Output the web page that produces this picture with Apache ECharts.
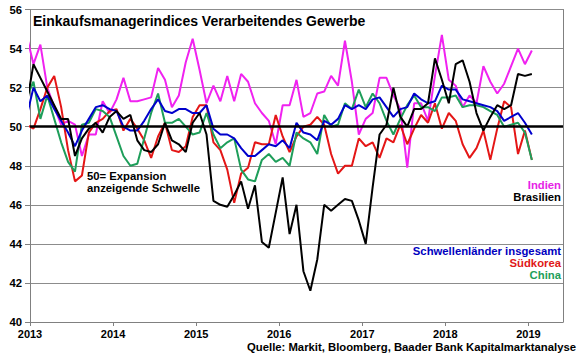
<!DOCTYPE html>
<html><head><meta charset="utf-8">
<script src="https://cdn.jsdelivr.net/npm/echarts@6/dist/echarts.min.js"></script>
<style>html,body{margin:0;padding:0;background:#fff}#c{width:580px;height:359px}</style>
</head><body><div id="c"></div>
<script>
// Monthly PMI values, Dec 2012 ... Jan 2019
const firstYear = 2012, firstMonth = 12;
const yearLabels = ['2013','2014','2015','2016','2017','2018','2019'];
const threshold = 50;

const indien = [54.7,
53.2,54.2,52.0,51.0,50.1,50.3,50.1,48.5,49.6,49.6,51.3,50.7,
51.4,52.5,51.3,51.3,51.4,51.5,53.0,52.4,51.0,51.6,53.3,54.5,
52.9,51.2,52.1,51.3,52.6,51.3,52.7,52.3,51.2,50.7,50.3,49.1,
51.1,51.1,52.4,50.5,50.7,51.7,51.8,52.6,52.1,54.4,52.3,49.6,
50.4,50.7,52.5,52.5,51.6,50.9,47.9,51.2,51.2,50.3,52.6,54.7,
52.4,52.1,51.0,51.6,51.2,53.1,52.3,51.7,52.2,53.1,54.0,53.2,
53.9];

const brasilien = [51.1,
53.2,52.5,51.8,51.1,50.4,50.4,48.5,49.4,49.9,50.2,49.7,50.5,
50.8,50.4,50.6,49.3,48.8,48.7,49.1,50.2,49.3,49.1,48.7,50.2,
50.7,49.6,46.2,46.0,45.9,46.5,47.2,45.8,47.0,44.1,43.8,45.6,
47.4,44.5,46.0,42.6,41.6,43.2,46.0,45.7,46.0,46.3,46.2,45.2,
44.0,46.9,49.6,50.1,52.0,50.5,50.0,50.9,50.9,51.2,53.5,52.4,
51.2,53.2,53.4,52.3,50.7,49.8,50.5,51.1,50.9,51.1,52.7,52.6,
52.7];

const schwellen = [50.5,
52.0,51.3,51.6,50.9,50.3,49.7,49.0,49.8,50.4,51.0,51.1,50.9,
50.8,50.0,49.8,49.8,50.3,50.9,51.4,50.8,50.7,50.9,50.9,50.7,
50.7,51.1,49.9,49.6,49.6,49.4,48.9,48.5,48.5,48.8,49.1,49.0,
49.3,48.9,50.2,49.7,49.6,49.3,50.3,50.1,50.4,51.1,50.9,51.1,
50.9,51.4,51.5,51.0,50.5,50.9,51.0,51.7,51.4,51.2,51.3,52.1,
51.9,51.9,51.4,51.3,51.2,51.1,51.0,50.8,50.3,50.5,50.7,50.2,
49.6];

const suedkorea = [50.1,
49.9,50.9,52.0,52.6,51.0,48.8,47.2,47.5,49.7,50.2,50.4,50.8,
50.9,49.8,50.4,49.9,49.3,48.4,49.5,50.2,48.8,48.7,49.0,50.5,
51.1,51.1,49.2,48.8,47.8,46.1,47.6,47.9,49.2,49.1,49.1,50.6,
49.5,48.7,49.5,50.0,50.1,50.5,50.1,48.6,47.6,48.0,48.0,49.4,
49.0,49.2,48.4,49.4,49.2,50.1,49.1,49.9,50.6,50.2,51.2,49.9,
50.7,50.3,49.1,48.4,48.9,49.8,48.3,49.9,51.3,51.0,48.6,49.8,
48.3];

const china = [51.5,
52.3,50.4,51.6,50.4,49.2,48.2,47.7,50.1,50.2,50.9,50.8,50.5,
49.5,48.5,48.0,48.1,49.4,50.7,51.7,50.2,50.2,50.4,50.0,49.6,
49.7,50.7,49.6,48.9,49.2,49.4,47.8,47.3,47.2,48.3,48.6,48.2,
48.4,48.0,49.7,49.4,49.2,48.6,50.6,50.0,50.1,51.2,50.9,51.9,
51.0,51.7,51.2,50.3,49.6,50.4,51.1,51.6,51.0,51.0,50.8,51.5,
51.5,51.6,51.0,51.1,51.1,51.0,50.8,50.6,50.0,50.1,50.2,49.7,
48.3];

// month categories -> axis position (months since Jan 2013, plotted mid-month)
const months = [];
for (let i = 0; i < indien.length; i++) {
  const t = (firstYear * 12 + firstMonth - 1) + i;
  months.push({ year: Math.floor(t / 12), month: t % 12 + 1 });
}
const monthPos = months.map(m => (m.year - 2013) * 12 + (m.month - 1) + 0.5);
const pairs = vals => vals.map((v, i) => [monthPos[i], v]);

const FONT = 'Liberation Sans, Arial, sans-serif';
const chart = echarts.init(document.getElementById('c'), null, { renderer: 'svg' });

const mkSeries = (name, vals, color, extra) => Object.assign({
  name, type: 'line', data: pairs(vals), showSymbol: false, symbol: 'none',
  lineStyle: { color, width: 2 }, itemStyle: { color }, clip: true, animation: false
}, extra || {});

chart.setOption({
  animation: false,
  grid: { left: 30, right: 17, top: 9.5, bottom: 37 },
  xAxis: {
    type: 'value', min: 0, max: 77, interval: 12,
    axisLine: { show: true, lineStyle: { color: '#808080', width: 1 } },
    axisTick: { show: true, length: 4, lineStyle: { color: '#808080' } },
    splitLine: { show: false },
    axisLabel: {
      margin: 6, color: '#000', fontSize: 11, fontWeight: 'bold', fontFamily: FONT,
      showMaxLabel: false,
      formatter: v => (v % 12 === 0 && yearLabels[v / 12]) ? yearLabels[v / 12] : ''
    }
  },
  yAxis: [{
    type: 'value', min: 40, max: 56, interval: 2,
    axisLine: { show: true, lineStyle: { color: '#808080', width: 1 } },
    axisTick: { show: true, length: 5, lineStyle: { color: '#808080' } },
    splitLine: { show: true, lineStyle: { color: '#8c8c8c', width: 1 } },
    axisLabel: { margin: 8, color: '#000', fontSize: 11.3, fontWeight: 'bold', fontFamily: FONT }
  }, {
    type: 'value', min: 40, max: 56, interval: 2, position: 'right',
    axisLine: { show: true, lineStyle: { color: '#808080', width: 1 } },
    axisTick: { show: false }, axisLabel: { show: false }, splitLine: { show: false }
  }],
  series: [
    mkSeries('Indien', indien, '#f022f0'),
    mkSeries('Südkorea', suedkorea, '#e41616'),
    mkSeries('China', china, '#1e9e5a'),
    mkSeries('Schwellenländer insgesamt', schwellen, '#0000cc'),
    mkSeries('Brasilien', brasilien, '#000000', {
      markLine: {
        silent: true, symbol: 'none', label: { show: false },
        lineStyle: { color: '#000', width: 2.5, type: 'solid' },
        data: [{ yAxis: threshold }]
      }
    })
  ],
  graphic: [
    { type: 'text', left: 33, top: 14, style: { text: 'Einkaufsmanagerindices Verarbeitendes Gewerbe', fill: '#000', font: 'bold 14px ' + FONT } },
    { type: 'text', left: 87, top: 170, style: { text: '50= Expansion\nanzeigende Schwelle', fill: '#000', font: 'bold 11.3px ' + FONT, lineHeight: 12 } },
    { type: 'text', right: 19, top: 179, style: { text: 'Indien', fill: '#e622e6', font: 'bold 11.3px ' + FONT } },
    { type: 'text', right: 19, top: 191, style: { text: 'Brasilien', fill: '#000', font: 'bold 11.3px ' + FONT } },
    { type: 'text', right: 19, top: 245, style: { text: 'Schwellenländer insgesamt', fill: '#0000c0', font: 'bold 11.3px ' + FONT } },
    { type: 'text', right: 19, top: 257, style: { text: 'Südkorea', fill: '#e01818', font: 'bold 11.3px ' + FONT } },
    { type: 'text', right: 19, top: 269, style: { text: 'China', fill: '#1e9e5a', font: 'bold 11.3px ' + FONT } },
    { type: 'text', right: 4, top: 341, style: { text: 'Quelle: Markit, Bloomberg, Baader Bank Kapitalmarktanalyse', fill: '#000', font: 'bold 11.3px ' + FONT } }
  ]
});
</script>
</body></html>
